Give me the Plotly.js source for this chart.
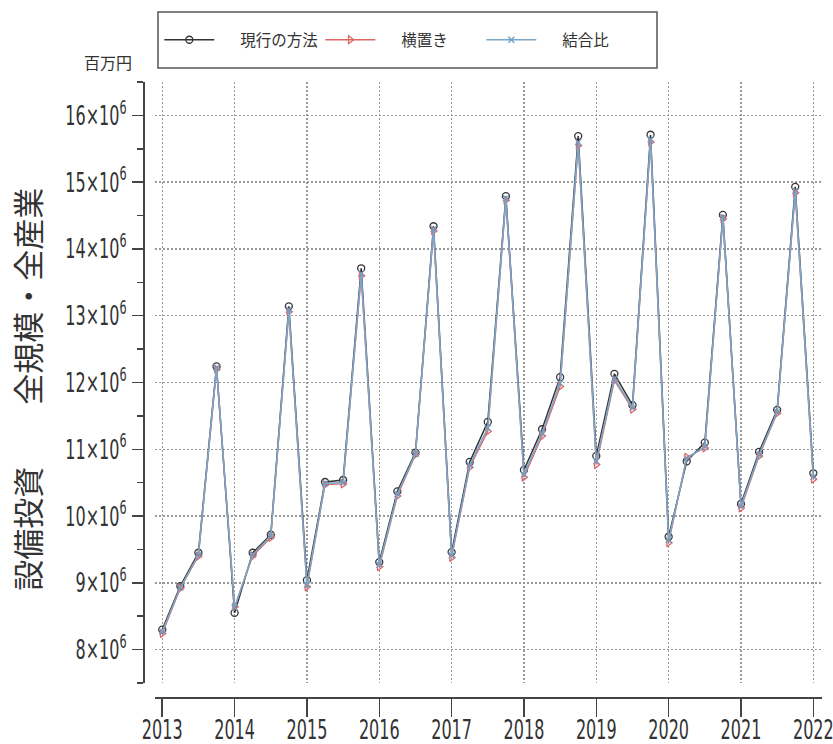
<!DOCTYPE html>
<html><head><meta charset="utf-8">
<script src="https://cdn.plot.ly/plotly-3.0.1.min.js"></script>
<style>html,body{margin:0;padding:0;background:#fff;}#chart{width:833px;height:744px;}</style>
</head><body><div id="chart"></div>
<script>
const quarters = [2013,2013.25,2013.5,2013.75,2014,2014.25,2014.5,2014.75,2015,2015.25,2015.5,2015.75,
  2016,2016.25,2016.5,2016.75,2017,2017.25,2017.5,2017.75,2018,2018.25,2018.5,2018.75,
  2019,2019.25,2019.5,2019.75,2020,2020.25,2020.5,2020.75,2021,2021.25,2021.5,2021.75,2022];
// values in units of 10^6 (百万円)
const current = [8.30,8.95,9.45,12.24, 8.55,9.45,9.72,13.14, 9.04,10.51,10.54,13.71,
  9.31,10.37,10.95,14.34, 9.46,10.81,11.41,14.79, 10.69,11.30,12.08,15.69,
  10.90,12.13,11.66,15.71, 9.69,10.82,11.10,14.51, 10.18,10.96,11.59,14.93, 10.64];
const horizontal = [8.24,8.92,9.40,12.20, 8.64,9.40,9.68,13.06, 8.94,10.47,10.48,13.60,
  9.24,10.30,10.92,14.27, 9.38,10.73,11.27,14.73, 10.58,11.20,11.94,15.55,
  10.77,12.03,11.60,15.60, 9.60,10.88,11.02,14.45, 10.12,10.90,11.54,14.84, 10.55];
const linked = [8.27,8.93,9.42,12.22, 8.63,9.42,9.70,13.09, 8.97,10.49,10.50,13.63,
  9.27,10.33,10.93,14.30, 9.41,10.76,11.32,14.76, 10.62,11.24,11.99,15.60,
  10.82,12.06,11.62,15.64, 9.64,10.86,11.04,14.47, 10.15,10.92,11.56,14.87, 10.59];
const seriesNames = ['現行の方法','横置き','結合比'];
const yTickVals = [8,9,10,11,12,13,14,15,16];
const yTickText = yTickVals.map(v => v + '×10<sup>6</sup>');
const xTickVals = [2013,2014,2015,2016,2017,2018,2019,2020,2021,2022];

const narrow = '"Liberation Sans Narrow", "DejaVu Sans Condensed", "Noto Sans CJK JP", sans-serif';
const cjk = '"Noto Sans CJK JP", sans-serif';
const pad = '\u00a0\u00a0\u00a0\u00a0\u00a0\u00a0';

const traces = [
  {x: quarters, y: current, name: pad + seriesNames[0], mode: 'lines+markers', type: 'scatter',
   line: {color: '#333333', width: 1.5},
   marker: {symbol: 'circle-open', size: 7, color: '#333333', line: {width: 1.3}}},
  {x: quarters, y: horizontal, name: pad + seriesNames[1], mode: 'lines+markers', type: 'scatter',
   line: {color: '#e06666', width: 1.3},
   marker: {symbol: 'triangle-right-open', size: 7, color: '#e06666', line: {width: 1.3}}},
  {x: quarters, y: linked, name: pad + seriesNames[2], mode: 'lines+markers', type: 'scatter',
   line: {color: '#7aa6c8', width: 1.6},
   marker: {symbol: 'x-thin-open', size: 6, color: '#6f9fc4', line: {width: 1.3}}}
];

const gridDash = '1.5px,2.5px';

const layout = {
  width: 833, height: 744,
  margin: {l: 143, r: 11, t: 82, b: 47},
  paper_bgcolor: '#fff', plot_bgcolor: '#fff',
  showlegend: true,
  legend: {orientation: 'h', x: 0.024, xanchor: 'left', y: 1.068, yanchor: 'middle',
    borderwidth: 0, bgcolor: 'rgba(0,0,0,0)',
    font: {family: cjk, size: 15.5, color: '#333'},
    itemwidth: 50, entrywidth: 96, entrywidthmode: 'pixels', traceorder: 'normal'},
  shapes: [
    {type: 'rect', xref: 'paper', yref: 'paper', x0: 0.0221, x1: 0.757, y0: 1.0228, y1: 1.1138,
     line: {color: '#555', width: 1.5}, fillcolor: 'rgba(0,0,0,0)', layer: 'above'}
  ],
  xaxis: {
    domain: [0.0177, 1], anchor: 'free', position: 0,
    range: [2012.9, 2022.12], tickmode: 'array', tickvals: xTickVals,
    showline: true, linecolor: '#444', linewidth: 1.5,
    ticks: 'outside', ticklen: 18, tickwidth: 1.5, tickcolor: '#444',
    showgrid: true, gridcolor: '#999', gridwidth: 1.4, griddash: gridDash,
    zeroline: false, ticklabeloverflow: 'allow',
    tickfont: {family: narrow, size: 27, color: '#333'}
  },
  yaxis: {
    domain: [0.0228, 1], anchor: 'free', position: 0,
    range: [7.5, 16.5], tickmode: 'array', tickvals: yTickVals, ticktext: yTickText,
    showline: true, linecolor: '#444', linewidth: 1.5,
    ticks: 'outside', ticklen: 11, tickwidth: 1.5, tickcolor: '#444',
    minor: {tickmode: 'linear', tick0: 7.5, dtick: 1, ticks: 'outside', ticklen: 6, tickwidth: 1.5, tickcolor: '#444', showgrid: false},
    showgrid: true, gridcolor: '#999', gridwidth: 1.4, griddash: gridDash,
    zeroline: false, ticklabeloverflow: 'allow',
    tickfont: {family: narrow, size: 27, color: '#333'}
  },
  annotations: [
    {text: '百万円', xref: 'paper', yref: 'paper', x: -0.0515, y: 1.0325,
     xanchor: 'center', yanchor: 'middle', showarrow: false,
     font: {family: cjk, size: 16, color: '#333'}},
    {text: '設備投資　　全規模・全産業', xref: 'paper', yref: 'paper', x: -0.172, y: 0.5,
     xanchor: 'center', yanchor: 'middle', showarrow: false, textangle: -90,
     font: {family: cjk, size: 31, color: '#333'}}
  ]
};

Plotly.newPlot('chart', traces, layout, {displayModeBar: false, staticPlot: true}).then(function () {
  const s = 0.66;
  document.querySelectorAll('.xtick text, .ytick text').forEach(function (t) {
    const bb = t.getBBox();
    const anchor = t.getAttribute('text-anchor');
    let ax = anchor === 'end' ? bb.x + bb.width : (anchor === 'start' ? bb.x : bb.x + bb.width / 2);
    const dy = t.closest('.xtick') ? -10 : 0;
    const tr = t.getAttribute('transform') || '';
    t.setAttribute('transform', tr + ' translate(' + ax + ',' + dy + ') scale(' + s + ',1) translate(' + (-ax) + ',0)');
  });
});
</script>
</body></html>
